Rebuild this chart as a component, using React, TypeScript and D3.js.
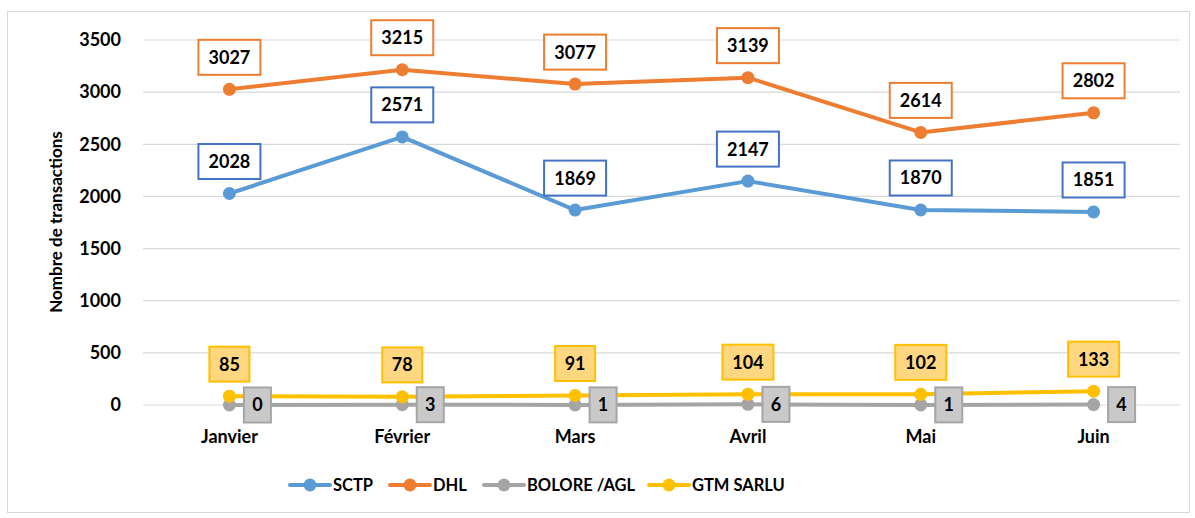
import React from "react";
import * as d3 from "d3";

const months = ["Janvier", "Février", "Mars", "Avril", "Mai", "Juin"];
const sctp = [2028, 2571, 1869, 2147, 1870, 1851];
const dhl = [3027, 3215, 3077, 3139, 2614, 2802];
const bolore = [0, 3, 1, 6, 1, 4];
const gtm = [85, 78, 91, 104, 102, 133];
const yTicks = [0, 500, 1000, 1500, 2000, 2500, 3000, 3500];

const W = 1195;
const H = 518;
const FONT = "Lato, 'Open Sans', sans-serif";

type Series = {
  name: string;
  values: number[];
  color: string;
  labelFill: string;
  labelStroke: string;
  labelPos: "above" | "right";
};

const series: Series[] = [
  { name: "SCTP", values: sctp, color: "#5B9BD5", labelFill: "#FFFFFF", labelStroke: "#4472C4", labelPos: "above" },
  { name: "DHL", values: dhl, color: "#ED7D31", labelFill: "#FFFFFF", labelStroke: "#ED7D31", labelPos: "above" },
  { name: "BOLORE /AGL", values: bolore, color: "#A5A5A5", labelFill: "#C9C9C9", labelStroke: "#A5A5A5", labelPos: "right" },
  { name: "GTM SARLU", values: gtm, color: "#FFC000", labelFill: "#FFD780", labelStroke: "#FFC000", labelPos: "above" },
];

const legendX = [290, 390, 484, 649];

export default function App() {
  const x = d3.scaleBand<string>().domain(months).range([143, 1180]);
  const y = d3.scaleLinear().domain([0, 3500]).range([405, 40]);
  const cx = (m: string) => (x(m) ?? 0) + x.bandwidth() / 2;
  const line = d3
    .line<number>()
    .x((_, i) => cx(months[i]))
    .y((v) => y(v));

  return (
    <svg width={W} height={H} style={{ position: "absolute", left: 0, top: 0 }} fontFamily={FONT}>
      <rect x={0} y={0} width={W} height={H} fill="#fff" />
      <rect x={7.5} y={11.5} width={1182} height={501} fill="#fff" stroke="#D9D9D9" strokeWidth={1} />
      {yTicks.map((t) => (
        <g key={t}>
          {t > 0 && <line x1={143} x2={1180} y1={y(t)} y2={y(t)} stroke="#D9D9D9" strokeWidth={1.2} />}
          <text x={121} y={y(t)} dy="0.35em" textAnchor="end" fontSize={18} fontWeight={700} fill="#000">
            {t}
          </text>
        </g>
      ))}
      <line x1={143} x2={1180} y1={y(0)} y2={y(0)} stroke="#D9D9D9" strokeWidth={1.2} />
      <text
        transform={`translate(56,222) rotate(-90)`}
        textAnchor="middle"
        dy="0.35em"
        fontSize={17}
        fontWeight={700}
        fill="#000"
      >
        Nombre de transactions
      </text>
      {months.map((m) => (
        <text key={m} x={cx(m)} y={437} dy="0.35em" textAnchor="middle" fontSize={18} fontWeight={700} fill="#000">
          {m}
        </text>
      ))}
      {series.map((s) => (
        <g key={s.name}>
          <path d={line(s.values) ?? ""} fill="none" stroke={s.color} strokeWidth={4} strokeLinejoin="round" strokeLinecap="round" />
          {s.values.map((v, i) => (
            <circle key={i} cx={cx(months[i])} cy={y(v)} r={6.5} fill={s.color} />
          ))}
        </g>
      ))}
      {series.map((s) => (
        <g key={s.name + "-labels"}>
          {s.values.map((v, i) => {
            const px = cx(months[i]);
            const py = y(v);
            const txt = String(v);
            const w = s.labelPos === "right" ? 27 : txt.length * 11 + 18;
            const h = 35;
            const lx = s.labelPos === "right" ? px + 28 : px;
            const ly = s.labelPos === "right" ? py : py - 32;
            return (
              <g key={i}>
                <rect x={lx - w / 2} y={ly - h / 2} width={w} height={h} fill={s.labelFill} stroke={s.labelStroke} strokeWidth={2} />
                <text x={lx} y={ly} dy="0.36em" textAnchor="middle" fontSize={18} fontWeight={700} fill="#000">
                  {txt}
                </text>
              </g>
            );
          })}
        </g>
      ))}
      {series.map((s, i) => (
        <g key={s.name + "-legend"} transform={`translate(${legendX[i]},485)`}>
          <line x1={0} x2={40} y1={0} y2={0} stroke={s.color} strokeWidth={4} strokeLinecap="round" />
          <circle cx={20} cy={0} r={6.5} fill={s.color} />
          <text x={43} y={0} dy="0.35em" fontSize={16.5} fontWeight={700} fill="#000">
            {s.name}
          </text>
        </g>
      ))}
    </svg>
  );
}
